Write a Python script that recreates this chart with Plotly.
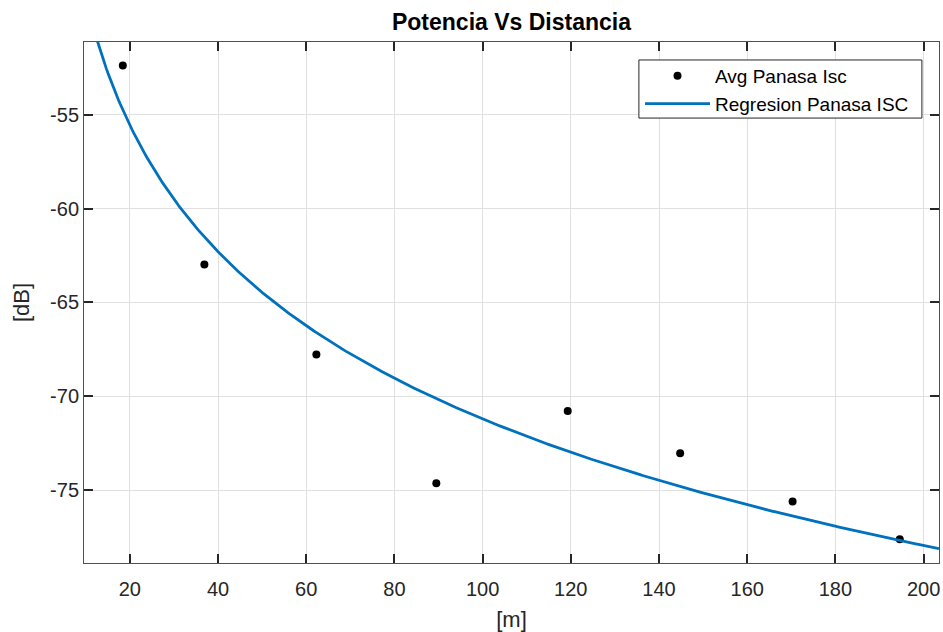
import numpy as np
import plotly.graph_objects as go

distance_m = [18.4, 36.9, 62.3, 89.5, 119.3, 144.8, 170.3, 194.6]
power_db = [-52.38, -62.98, -67.78, -74.63, -70.78, -73.03, -75.60, -77.62]

x_ticks = [20, 40, 60, 80, 100, 120, 140, 160, 180, 200]
y_ticks = [-75, -70, -65, -60, -55]
y_tick_labels = ["-75", "-70", "-65", "-60", "-55"]

x_range = [9.6, 203.5]
y_range = [-78.88, -51.13]

# Log-distance regression computed from the data
b, a = np.polyfit(np.log10(distance_m), power_db, 1)
x_fit = np.linspace(x_range[0], x_range[1], 500)
y_fit = a + b * np.log10(x_fit)

FONT = "Liberation Sans, Arial, Helvetica, sans-serif"
TXT = "#262626"

fig = go.Figure()
fig.add_trace(go.Scatter(
    x=distance_m, y=power_db, mode="markers", name="Avg Panasa Isc",
    marker=dict(color="black", size=8),
))
fig.add_trace(go.Scatter(
    x=x_fit, y=y_fit, mode="lines", name="Regresion Panasa ISC",
    line=dict(color="#0072BD", width=2.8),
))

axis_common = dict(
    showline=True, linecolor="#505050", linewidth=1, mirror="ticks",
    ticks="inside", ticklen=9, tickwidth=1.5, tickcolor=TXT,
    showgrid=True, gridcolor="#e0e0e0", gridwidth=1, zeroline=False,
    tickfont=dict(family=FONT, size=20, color=TXT),
)

fig.update_layout(
    width=943, height=632,
    margin=dict(l=84, r=4, t=42, b=69),
    paper_bgcolor="white", plot_bgcolor="white",
    font=dict(family=FONT, color=TXT),
    title=dict(
        text="Potencia Vs Distancia",
        font=dict(family=FONT, size=23, color="black", weight="bold"),
        x=0.5, xref="paper", xanchor="center",
        y=1 - 22 / 632, yref="container", yanchor="middle",
    ),
    xaxis=dict(
        range=x_range, tickvals=x_ticks, ticklabelstandoff=8,
        title=dict(text="[m]", font=dict(family=FONT, size=22, color=TXT), standoff=12),
        **axis_common,
    ),
    yaxis=dict(
        range=y_range, tickvals=y_ticks, ticktext=y_tick_labels,
        title=dict(text="[dB]", font=dict(family=FONT, size=22, color=TXT), standoff=14),
        **axis_common,
    ),
    legend=dict(
        x=0.6503, y=0.9712, xanchor="left", yanchor="top",
        bgcolor="rgba(0,0,0,0)", borderwidth=0,
        font=dict(family=FONT, size=19, color="black"),
        itemwidth=65,
    ),
    shapes=[dict(
        type="rect", xref="paper", yref="paper",
        x0=0.649, x1=0.980, y0=0.854, y1=0.9655,
        line=dict(color=TXT, width=1), fillcolor="white", layer="above",
    )],
    showlegend=True,
)

fig.write_html("out.html")
